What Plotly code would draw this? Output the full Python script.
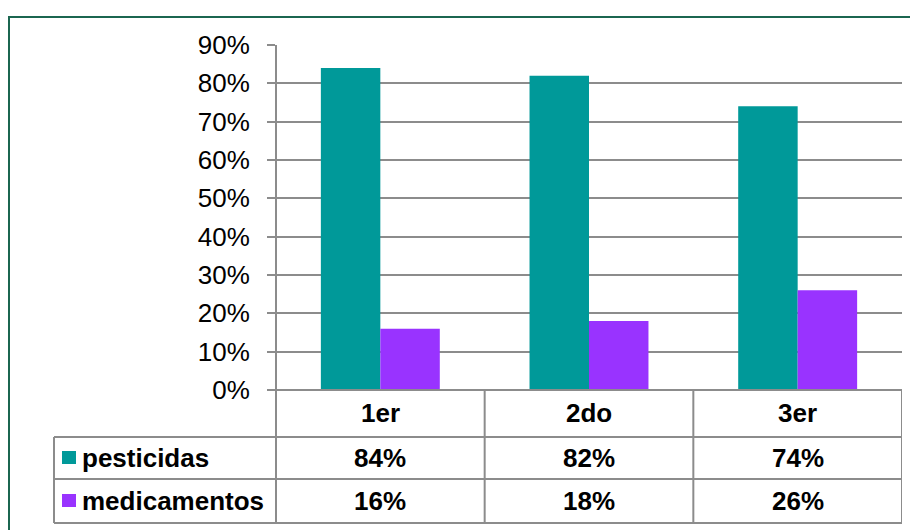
import plotly.graph_objects as go

categories = ["1er", "2do", "3er"]
series_names = ["pesticidas", "medicamentos"]
pesticidas = [84, 82, 74]
medicamentos = [16, 18, 26]
y_ticks = [0, 10, 20, 30, 40, 50, 60, 70, 80, 90]
y_tick_labels = [f"{v}%" for v in y_ticks]

colors = ["#009999", "#9933FF"]
grid_col = "#8c8c8c"
FONT = "Liberation Sans, Arial, sans-serif"

# page offset (body margin) compensation
OFF = 8
W, H = 918 - OFF, 530 - OFF
# plot area in page pixels
L, R, T, B = 276, 902, 45, 390


def px_x(px):
    return (px - L) / (R - L)


def px_y(py):
    return (B - py) / (B - T)


fig = go.Figure()
for name, vals, col in zip(series_names, [pesticidas, medicamentos], colors):
    fig.add_trace(go.Bar(x=categories, y=vals, name=name, marker=dict(color=col, line=dict(width=0)),
                         showlegend=False))

shapes = []
# outer green frame
shapes.append(dict(type="rect", xref="paper", yref="paper",
                   x0=px_x(9), x1=px_x(940), y0=px_y(560), y1=px_y(17),
                   line=dict(color="#1b6650", width=2), fillcolor="rgba(0,0,0,0)", layer="below"))

tl = dict(color=grid_col, width=2)
# y axis line extended down through table
shapes.append(dict(type="line", xref="paper", yref="paper", x0=0, x1=0, y0=px_y(523), y1=1, line=tl))
# vertical table lines at category boundaries
for b in [0.5, 1.5, 2.5]:
    shapes.append(dict(type="line", xref="x", yref="paper", x0=b, x1=b, y0=px_y(523), y1=px_y(390), line=tl))
# left border of table
shapes.append(dict(type="line", xref="paper", yref="paper", x0=px_x(54), x1=px_x(54),
                   y0=px_y(523), y1=px_y(437), line=tl))
# horizontal lines
shapes.append(dict(type="line", xref="paper", yref="paper", x0=0, x1=1, y0=0, y1=0, line=tl))
for py in [437, 479, 523]:
    shapes.append(dict(type="line", xref="paper", yref="paper", x0=px_x(54), x1=1,
                       y0=px_y(py), y1=px_y(py), line=tl))

annotations = []
row_centers = [458, 501]
FS = 26
for c in categories:
    annotations.append(dict(x=c, xref="x", y=px_y(413), yref="paper", text=f"<b>{c}</b>",
                            showarrow=False, font=dict(family=FONT, size=FS, color="black"),
                            xanchor="center", yanchor="middle"))
for name, vals, col, yc in zip(series_names, [pesticidas, medicamentos], colors, row_centers):
    shapes.append(dict(type="rect", xref="paper", yref="paper", x0=px_x(62), x1=px_x(76),
                       y0=px_y(yc + 6), y1=px_y(yc - 7), fillcolor=col, line=dict(width=0)))
    annotations.append(dict(x=px_x(80), xref="paper", y=px_y(yc), yref="paper", text=f"<b>{name}</b>",
                            showarrow=False, font=dict(family=FONT, size=FS, color="black"),
                            xanchor="left", yanchor="middle"))
    for c, v in zip(categories, vals):
        annotations.append(dict(x=c, xref="x", y=px_y(yc), yref="paper", text=f"<b>{v}%</b>",
                                showarrow=False, font=dict(family=FONT, size=FS, color="black"),
                                xanchor="center", yanchor="middle"))

fig.update_layout(
    width=W, height=H,
    margin=dict(l=L - OFF, r=918 - R, t=T - OFF, b=530 - B, pad=0),
    paper_bgcolor="white", plot_bgcolor="white",
    barmode="group", bargap=0.43, bargroupgap=0,
    xaxis=dict(showticklabels=False, showgrid=False, zeroline=False, showline=False, ticks="",
               range=[-0.5, 2.5]),
    yaxis=dict(range=[0, 90], tickvals=y_ticks, ticktext=y_tick_labels, showgrid=True, gridcolor=grid_col,
               gridwidth=2, zeroline=False, showline=False, ticks="outside", ticklen=8,
               tickcolor=grid_col, tickwidth=2,
               tickfont=dict(family=FONT, size=FS, color="black"), ticklabelstandoff=12),
    shapes=shapes, annotations=annotations,
    font=dict(family=FONT),
)

fig.write_html("out.html")
